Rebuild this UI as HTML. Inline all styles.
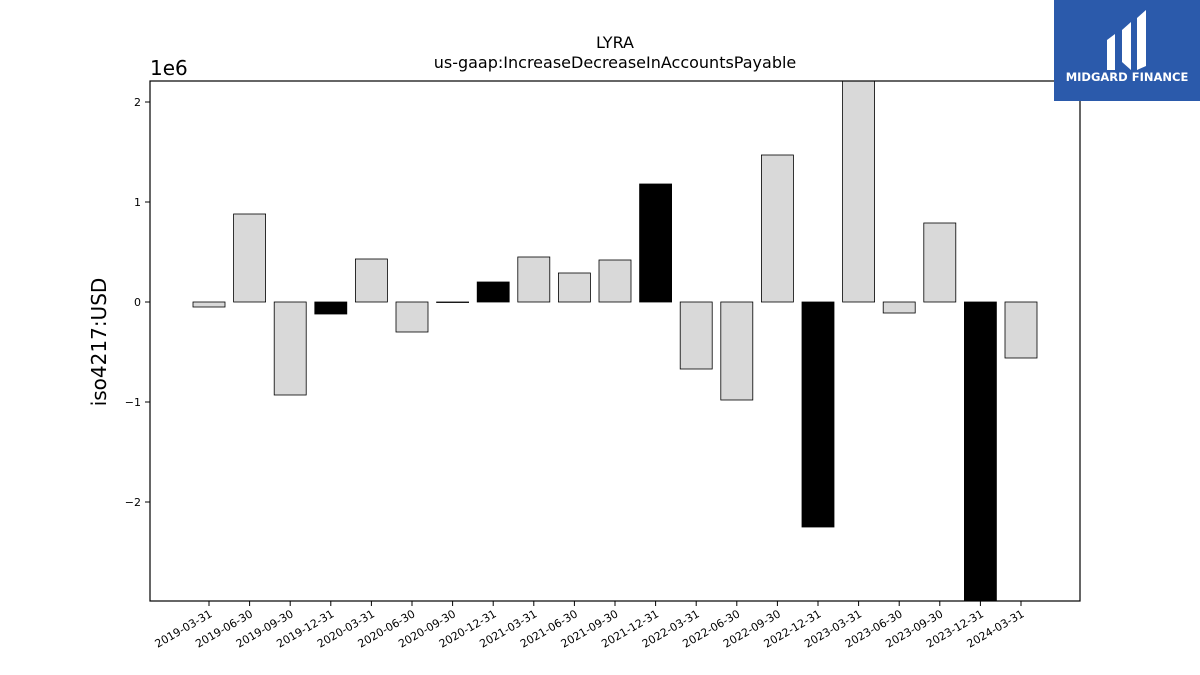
<!DOCTYPE html>
<html><head><meta charset="utf-8"><style>
body{margin:0;background:#fff;}
svg{display:block;font-family:"DejaVu Sans","Liberation Sans",sans-serif;}
</style></head><body>
<svg id="chart" width="1200" height="675">
<text x="615" y="48" text-anchor="middle" font-size="16">LYRA</text>
<text x="615" y="68" text-anchor="middle" font-size="16">us-gaap:IncreaseDecreaseInAccountsPayable</text>
<text x="150" y="75" font-size="20">1e6</text>
<text transform="translate(106,342) rotate(-90)" text-anchor="middle" font-size="20">iso4217:USD</text>
<g id="bars"></g>
<g id="yticks"></g>
<g id="xticks"></g>
<rect x="150" y="81" width="930" height="520" fill="none" stroke="#000" stroke-width="1.2"/>
<g>
<rect x="1054" y="0" width="146" height="101" fill="#2b5aab"/>
<path d="M1107 40 L1115 34 L1115 70 L1107 70 Z M1122 30 L1131 22 L1131 70 L1122 62 Z M1137 18 L1146 10 L1146 66 L1137 70 Z" fill="#fff"/>
<text x="1127" y="81" text-anchor="middle" font-size="11.5" font-weight="bold" fill="#fff">MIDGARD FINANCE</text>
</g>
</svg>
<script>
const categories=["2019-03-31","2019-06-30","2019-09-30","2019-12-31","2020-03-31","2020-06-30","2020-09-30","2020-12-31","2021-03-31","2021-06-30","2021-09-30","2021-12-31","2022-03-31","2022-06-30","2022-09-30","2022-12-31","2023-03-31","2023-06-30","2023-09-30","2023-12-31","2024-03-31"];
const values=[-0.05,0.88,-0.93,-0.12,0.43,-0.30,-0.005,0.20,0.45,0.29,0.42,1.18,-0.67,-0.98,1.47,-2.25,2.5,-0.11,0.79,-3.2,-0.56];
const highlighted=[false,false,false,true,false,false,false,true,false,false,false,true,false,false,false,true,false,false,false,true,false];
const yTicks=[-2,-1,0,1,2];
const yTickLabels=["\u22122","\u22121","0","1","2"];
const NS="http://www.w3.org/2000/svg";
const pTop=81,pBottom=601,pLeft=150,yMax=2.21,yMin=-2.99;
function y(v){return pTop+(yMax-Math.max(yMin,Math.min(yMax,v)))/(yMax-yMin)*(pBottom-pTop);}
function x(i){return 209+i*40.6;}
const bw=32;
const bars=document.getElementById('bars');
values.forEach((v,i)=>{
  const r=document.createElementNS(NS,'rect');
  const y0=y(0),y1=y(v);
  r.setAttribute('x',x(i)-bw/2);r.setAttribute('width',bw);
  r.setAttribute('y',Math.min(y0,y1));r.setAttribute('height',Math.max(0.5,Math.abs(y1-y0)));
  r.setAttribute('fill',highlighted[i]?'#000':'#d9d9d9');r.setAttribute('stroke','#000');r.setAttribute('stroke-width','0.8');
  
  
  bars.appendChild(r);
});
const yt=document.getElementById('yticks');
yTicks.forEach((t,i)=>{
  const l=document.createElementNS(NS,'line');
  l.setAttribute('x1',pLeft-5);l.setAttribute('x2',pLeft);l.setAttribute('y1',y(t));l.setAttribute('y2',y(t));l.setAttribute('stroke','#000');
  
  
  yt.appendChild(l);
  const tx=document.createElementNS(NS,'text');
  tx.setAttribute('x',pLeft-9);tx.setAttribute('y',y(t)+4);tx.setAttribute('text-anchor','end');tx.setAttribute('font-size','11');
  tx.textContent=yTickLabels[i];
  
  
  yt.appendChild(tx);
});
const xt=document.getElementById('xticks');
categories.forEach((c,i)=>{
  const l=document.createElementNS(NS,'line');
  l.setAttribute('x1',x(i));l.setAttribute('x2',x(i));l.setAttribute('y1',pBottom);l.setAttribute('y2',pBottom+5);l.setAttribute('stroke','#000');
  
  
  xt.appendChild(l);
  const tx=document.createElementNS(NS,'text');
  tx.setAttribute('transform','translate('+(x(i)+4)+','+(pBottom+15)+') rotate(-30)');
  tx.setAttribute('text-anchor','end');tx.setAttribute('font-size','11');
  tx.textContent=c;
  
  
  xt.appendChild(tx);
});
</script>
</body></html>
